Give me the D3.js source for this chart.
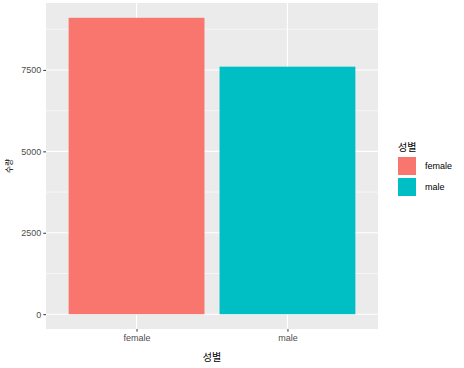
<!DOCTYPE html>
<html>
  <head>
    <meta charset="utf-8" />
    <title>성별</title>
    <script src="https://d3js.org/d3.v7.min.js"></script>
    <style>
      body { margin: 0; background: #fff; }
      text { font-family: Arial, "Liberation Sans", "Noto Sans CJK KR", sans-serif; }
      .kr { font-family: "Noto Sans CJK KR", sans-serif; }
    </style>
  </head>
  <body>
    <div id="chart"></div>
    <script>
const categories = ['female', 'male'];
const counts = [9100, 7600];
const colors = ['#F8766D', '#00BFC4'];
const yTicks = [0, 2500, 5000, 7500];
const yMinor = [1250, 3750, 6250, 8750];

const W = 464, H = 368;
const panel = { left: 46, top: 3, right: 378, bottom: 329 };

const svg = d3.select('#chart').append('svg')
  .attr('width', W).attr('height', H);

// ggplot style discrete scale: 0.6 expansion each side
const x = d3.scalePoint()
  .domain(categories)
  .range([panel.left, panel.right])
  .padding(0.6);
const step = x.step();
const barW = step * 0.9;

const maxV = d3.max(counts);
const y = d3.scaleLinear()
  .domain([-maxV * 0.05, maxV * 1.05])
  .range([panel.bottom, panel.top]);

svg.append('rect')
  .attr('x', panel.left).attr('y', panel.top)
  .attr('width', panel.right - panel.left)
  .attr('height', panel.bottom - panel.top)
  .attr('fill', '#EBEBEB');

const grid = svg.append('g');
grid.selectAll('.minor').data(yMinor).enter().append('line')
  .attr('x1', panel.left).attr('x2', panel.right)
  .attr('y1', d => y(d)).attr('y2', d => y(d))
  .attr('stroke', '#fff').attr('stroke-width', 0.55);
grid.selectAll('.major').data(yTicks).enter().append('line')
  .attr('x1', panel.left).attr('x2', panel.right)
  .attr('y1', d => y(d)).attr('y2', d => y(d))
  .attr('stroke', '#fff').attr('stroke-width', 1.1);
grid.selectAll('.vmajor').data(categories).enter().append('line')
  .attr('y1', panel.top).attr('y2', panel.bottom)
  .attr('x1', d => x(d)).attr('x2', d => x(d))
  .attr('stroke', '#fff').attr('stroke-width', 1.1);

svg.selectAll('.bar').data(categories).enter().append('rect')
  .attr('x', d => x(d) - barW / 2)
  .attr('width', barW)
  .attr('y', (d, i) => y(counts[i]))
  .attr('height', (d, i) => y(0) - y(counts[i]))
  .attr('fill', (d, i) => colors[i]);

// y axis
const yAxis = svg.append('g')
  .attr('transform', `translate(${panel.left},0)`)
  .call(d3.axisLeft(y).tickValues(yTicks).tickSize(2.7).tickPadding(2).tickFormat(d3.format('d')));
yAxis.select('.domain').remove();
yAxis.selectAll('.tick line').attr('stroke', '#333');
yAxis.selectAll('.tick text').attr('fill', '#4D4D4D').style('font-size', '9px');

// x axis
const xAxis = svg.append('g')
  .attr('transform', `translate(0,${panel.bottom})`)
  .call(d3.axisBottom(x).tickSize(2.7).tickPadding(3));
xAxis.select('.domain').remove();
xAxis.selectAll('.tick line').attr('stroke', '#333');
xAxis.selectAll('.tick text').attr('fill', '#4D4D4D').style('font-size', '9px');

svg.append('text').attr('class', 'kr')
  .attr('x', (panel.left + panel.right) / 2).attr('y', 361)
  .attr('text-anchor', 'middle')
  .style('font-size', '10px')
  .text('성별');

svg.append('text').attr('class', 'kr')
  .attr('transform', `translate(12,${(panel.top + panel.bottom) / 2}) rotate(-90)`)
  .attr('text-anchor', 'middle')
  .style('font-size', '8px')
  .text('수량');

// legend
const lg = svg.append('g').attr('transform', 'translate(398,140)');
lg.append('text').attr('class', 'kr')
  .attr('x', 0).attr('y', 11)
  .style('font-size', '10px')
  .text('성별');
const items = lg.selectAll('.item').data(categories).enter().append('g')
  .attr('transform', (d, i) => `translate(0,${17 + i * 21})`);
items.append('rect')
  .attr('width', 18).attr('height', 18)
  .attr('fill', (d, i) => colors[i]);
items.append('text')
  .attr('x', 27).attr('y', 9).attr('dy', '0.35em')
  .style('font-size', '9px')
  .attr('fill', '#000')
  .text(d => d);
    </script>
  </body>
</html>
